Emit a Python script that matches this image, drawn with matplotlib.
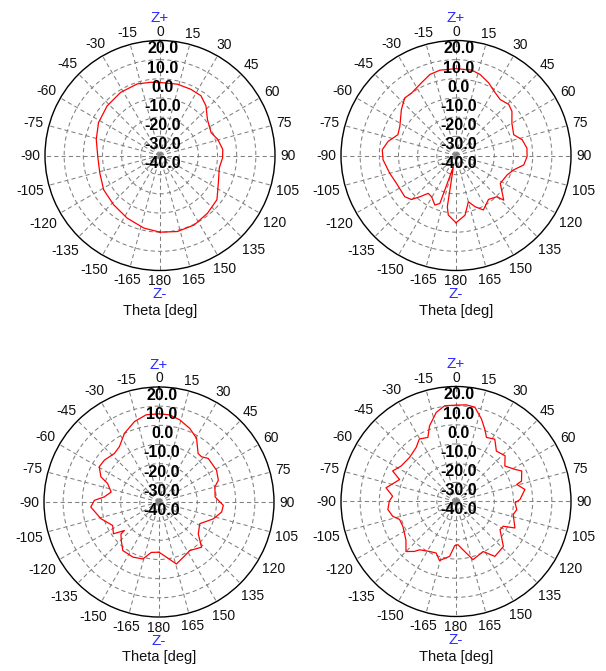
import numpy as np
import matplotlib
matplotlib.use("Agg")
import matplotlib.pyplot as plt

plt.rcParams['font.family'] = ['Liberation Sans', 'DejaVu Sans']

W, H = 606, 671

# gain patterns: theta [deg], gain [dB]
theta1 = [-180, -167.5, -152.3, -136.8, -121.3, -106.1, -90.6, -75.8, -61.8, -46.9,
          -32.1, -17.7, -7.3, 0, 13.7, 24.9, 34.4, 42.8, 52.7, 65.9, 74.4, 84.5,
          92, 101.8, 115, 127.8, 140.5, 153.8, 167.1, 180]
gain1 = [0.0, -1.2, -3.1, -4.7, -5.6, -7.3, -7.5, -5.7, -3.6, -2.2,
         -1.2, -0.8, -1.5, -1.9, -1.7, -1.9, -2.2, -4.7, -8.9, -10.8, -8.7, -7.1,
         -7.3, -8.4, -6.4, -2.4, -1.0, 0.4, 0.7, 0.0]

theta2 = [-180, -172.6, -170.4, -167, -161.4, -156.9, -149.3, -143.7, -138.7, -134.6,
          -128.8, -115, -105, -93.4, -85.6, -78.3, -70.3, -62.6, -50, -41.7,
          -35.4, -25.4, -17.9, -10.7, 0, 10.4, 16.6, 24.1, 32, 38.3,
          45.9, 51.7, 59.9, 70.2, 76.6, 84.1, 90.8, 97.9, 104, 110.9,
          122.2, 133.1, 135.2, 143.5, 153.3, 159.6, 165, 171.4, 180]
gain2 = [-4.9, -8.7, -12.9, -34, -13.6, -11.9, -15.0, -15.5, -11.3, -7.3,
         -5.7, -5.7, -4.2, -1.9, -1.4, -3.8, -7.8, -7.0, -2.8, 0.2,
         0.0, 2.0, 4.4, 5.3, 5.3, 5.3, 4.1, 1.6, -1.4, -2.8,
         -1.7, -2.8, -6.3, -8.0, -4.5, -2.8, -2.9, -4.3, -9.0, -11.5,
         -12.7, -5.9, -9.7, -11.5, -8.2, -11.5, -15, -8.5, -4.9]

theta3 = [-180, -171.3, -164.2, -154.7, -143.3, -135.5, -130, -129.5, -124.9, -116.9,
          -106.1, -94.2, -88.5, -84.7, -78.2, -70.2, -66.6, -59.5, -52.5, -42.5,
          -35.6, -26.7, -16.9, -8.3, 0, 7, 14.2, 22.7, 30.5, 38.9,
          43.3, 48.5, 61.1, 69.8, 74.9, 84.9, 93, 99.1, 107.2, 118,
          129.1, 136.7, 147.6, 156.4, 164.3, 172.4, 180]
gain3 = [-13.8, -13.4, -9.1, -8.2, -8.4, -11.9, -14.1, -16.6, -11.0, -12.9,
         -8.5, -4.3, -6.3, -11.3, -14.5, -11.5, -7.0, -3.8, -4.1, -5.6,
         -4.5, 0.1, 3.9, 6.0, 6.0, 5.8, 4.2, 1.6, -1.4, -7.5,
         -7.6, -5.7, -5.7, -7.0, -9.8, -10.6, -6.4, -6.9, -10.3, -15.9,
         -13.6, -7.6, -10.0, -8.5, -6.4, -11.0, -13.8]

theta4 = [-180, -178.3, -173.4, -164.4, -159, -152.1, -142.9, -140.2, -135, -127.4,
          -115, -107.7, -103.1, -96.7, -89.7, -85.2, -78.9, -73.1, -68.7, -64.3,
          -57.1, -46.7, -36.5, -30.4, -23.7, -19.3, -12.5, -6.8, 0, 6.1,
          11.3, 17.2, 21.7, 25.5, 31.9, 38.7, 47, 54, 61.4, 65.1,
          72.7, 74.3, 80.1, 88.2, 91.3, 97.6, 102.8, 114.2, 117.7, 122.7,
          133.5, 144.7, 151.5, 163.7, 171.7, 177.3, 180]
gain4 = [-17.2, -16.9, -11.2, -8.0, -11.2, -10.5, -8.4, -6.1, -3.1, -7.1,
         -9.4, -9.1, -6.1, -4.2, -5.2, -6.8, -2.8, -6.4, -8.4, -3.3,
         -5.9, -6.6, -5.0, -2.2, -3.5, 1.8, 7.6, 10.3, 10.3, 10.7,
         10.2, 5.0, 0.6, -3.0, -1.7, -6.3, -5.0, -8.5, -5.0, -2.2,
         -4.2, -7.1, -3.5, -6.6, -9.2, -8.0, -9.4, -6.3, -12.2, -12.7,
         -5.9, -4.9, -10.3, -8.4, -14.5, -17.4, -17.2]

ring_values = [20, 10, 0, -10, -20, -30, -40]
ring_labels = ['20.0', '10.0', '0.0', '-10.0', '-20.0', '-30.0', '-40.0']
angle_ticks = [0, 15, 30, 45, 60, 75, 90, 105, 120, 135, 150, 165, 180,
               -165, -150, -135, -120, -105, -90, -75, -60, -45, -30, -15]

patterns = [(theta1, gain1), (theta2, gain2), (theta3, gain3), (theta4, gain4)]
centers = [(160, 155.5), (456, 155.5), (159, 502), (456, 501.5)]
R = 115
RMIN, RMAX = -40, 20

fig = plt.figure(figsize=(W / 100, H / 100), dpi=100)
renderer = fig.canvas.get_renderer()

tick_fs = 10
rad_fs = 11.5
px = 100 / 72.0


def put_text(x_img, y_img, s, fs, color, weight='normal'):
    # x_img, y_img: centre of the text (cap height) in image pixels
    cap = 0.716 * fs * px
    return fig.text(x_img / W, (H - y_img - cap / 2) / H, s, fontsize=fs,
                    color=color, ha='center', va='baseline', fontweight=weight)


for (theta, gain), (cx, cy) in zip(patterns, centers):
    ax = fig.add_axes([(cx - R) / W, 1 - (cy + R) / H, 2 * R / W, 2 * R / H],
                      projection='polar')
    ax.set_theta_zero_location('N')
    ax.set_theta_direction(-1)
    ax.set_xticks(np.radians(np.arange(0, 360, 15)))
    ax.set_xticklabels([])
    ax.set_yticks([-30, -20, -10, 0, 10])
    ax.set_yticklabels([])
    ax.set_ylim(RMIN, RMAX)
    ax.grid(True, color='#808080', linestyle=(0, (4, 3)), linewidth=0.75)
    ax.tick_params(length=0)
    ax.spines['polar'].set_linewidth(1.0)
    ax.spines['polar'].set_color('black')
    ax.plot(np.radians(theta), gain, color='#ff0000', lw=0.9, zorder=3)

    # angle labels around the circle
    for a in angle_ticks:
        t = put_text(0, 0, str(a), tick_fs, '#111111')
        w = t.get_window_extent(renderer).width
        cap = 0.716 * tick_fs * px
        s, c = np.sin(np.radians(a)), np.cos(np.radians(a))
        d = R + 5 + abs(s) * w / 2 + abs(c) * cap / 2
        x, y = cx + d * s, cy - d * c
        t.set_position((x / W, (H - y - cap / 2) / H))

    # radial labels under each ring
    cap_r = 0.716 * rad_fs * px
    for v, lab in zip(ring_values, ring_labels):
        ry = cy - (v - RMIN) * R / (RMAX - RMIN)
        fig.text((cx + 3) / W, (H - (ry + 1.5 + cap_r)) / H, lab, fontsize=rad_fs,
                 color='black', ha='center', va='baseline', fontweight='bold',
                 zorder=5)

    put_text(cx, cy - 138.5, 'Z+', 11, '#2b2bff')
    put_text(cx, cy + 137.5, 'Z-', 11, '#2b2bff')
    fig.text(cx / W, (H - (cy + 159.5)) / H, 'Theta [deg]', fontsize=10.5,
             color='#111111', ha='center', va='baseline')

fig.savefig('out.png', dpi=100)
